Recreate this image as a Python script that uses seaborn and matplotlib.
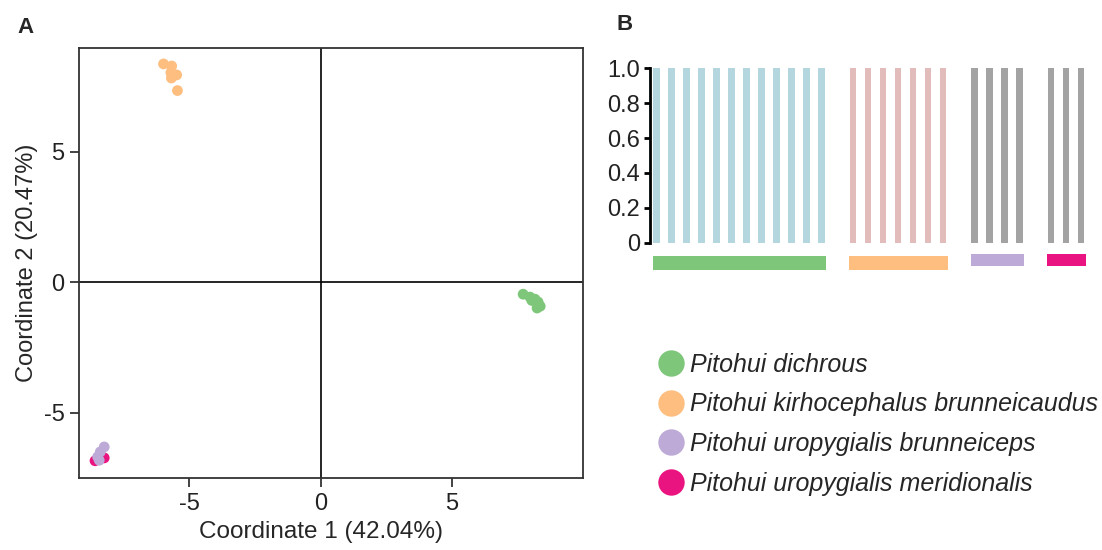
import numpy as np
import pandas as pd
import seaborn as sns
import matplotlib.pyplot as plt
from matplotlib.lines import Line2D

# Panel A: PCoA coordinates per species
species = [
    "Pitohui dichrous",
    "Pitohui kirhocephalus brunneicaudus",
    "Pitohui uropygialis brunneiceps",
    "Pitohui uropygialis meridionalis",
]
species_colors = ["#7DC67A", "#FDBE80", "#BDAAD6", "#EA1480"]

dichrous_x = [7.72, 7.98, 8.17, 8.29, 8.37, 8.25, 8.05]
dichrous_y = [-0.46, -0.57, -0.65, -0.76, -0.92, -0.99, -0.70]
kirho_x = [-5.98, -5.67, -5.70, -5.48, -5.68, -5.45]
kirho_y = [8.36, 8.28, 8.03, 7.94, 7.82, 7.34]
brunneiceps_x = [-8.24, -8.39, -8.49, -8.43]
brunneiceps_y = [-6.31, -6.50, -6.69, -6.82]
meridionalis_x = [-8.59, -8.24]
meridionalis_y = [-6.84, -6.73]

# Panel B: STRUCTURE membership (K=1 cluster colours per population)
group_counts = [12, 7, 4, 3]
bar_colors = ["#ADDAE5", "#E8B5B5", "#A3A3A3", "#A3A3A3"]
membership = [1.0] * sum(group_counts)

sns.set_style("white")
plt.rcParams["font.family"] = ["Liberation Sans", "DejaVu Sans"]
plt.rcParams["axes.unicode_minus"] = False

fig = plt.figure(figsize=(11.02, 5.5), dpi=100)

# ---------- Panel A ----------
ax = fig.add_axes([79 / 1102, 1 - 478 / 550, 504 / 1102, 430 / 550])

frames = []
# meridionalis first so brunneiceps sits on top
for name, xs, ys in [
    (species[3], meridionalis_x, meridionalis_y),
    (species[0], dichrous_x, dichrous_y),
    (species[1], kirho_x, kirho_y),
    (species[2], brunneiceps_x, brunneiceps_y),
]:
    frames.append(pd.DataFrame({"x": xs, "y": ys, "species": name}))
pcoa = pd.concat(frames, ignore_index=True)

sns.scatterplot(
    data=pcoa, x="x", y="y", hue="species",
    palette=dict(zip(species, species_colors)),
    s=60, linewidth=0, alpha=1, legend=False, ax=ax, zorder=3
)
ax.axhline(0, color="black", lw=1.2, zorder=1)
ax.axvline(0, color="black", lw=1.2, zorder=1)
ax.set_xlim(-9.2, 10.0)
ax.set_ylim(-7.5, 8.97)
ax.set_xticks([-5, 0, 5])
ax.set_yticks([-5, 0, 5])
ax.tick_params(direction="out", length=6.5, width=1.2, labelsize=17,
               bottom=True, left=True, colors="#222222", pad=4)
for sp in ax.spines.values():
    sp.set_color("#333333")
    sp.set_linewidth(1.3)
ax.set_xlabel("Coordinate 1 (42.04%)", fontsize=17.5)
ax.set_ylabel("Coordinate 2 (20.47%)", fontsize=17, labelpad=4)
ax.xaxis.set_label_coords(0.48, -0.1)

# ---------- Panel B ----------
pitch = 15.0  # px per bar slot
axb = fig.add_axes([650 / 1102, 1 - 272.3 / 550, 445 / 1102, 204 / 550])

gap = 1.1
positions, groups = [], []
start = 0.0
spans = []
for gi, n in enumerate(group_counts):
    pos = [start + i for i in range(n)]
    positions += pos
    groups += [gi] * n
    spans.append((pos[0], pos[-1]))
    start = pos[-1] + 1 + gap

struct = pd.DataFrame({"pos": positions, "q": membership, "grp": groups})
sns.barplot(
    data=struct, x="pos", y="q", hue="grp",
    palette=dict(enumerate(bar_colors)), native_scale=True, dodge=False,
    width=0.46, legend=False, ax=axb, linewidth=0, zorder=2
)
for p in axb.patches:
    p.set_clip_on(False)

# population bars underneath
for gi, (a, b) in enumerate(spans):
    h = 0.081 if gi < 2 else 0.069
    bot = -0.157 if gi < 2 else -0.134
    axb.bar((a + b) / 2 + 0.03, h, width=(b - a) + 0.55, bottom=bot,
            color=species_colors[gi], linewidth=0, clip_on=False)

axb.set_xlim(-0.43, -0.43 + 445 / pitch)
axb.set_ylim(-0.17, 1.0)
axb.set_yticks([0, 0.2, 0.4, 0.6, 0.8, 1.0])
axb.set_yticklabels(["0", "0.2", "0.4", "0.6", "0.8", "1.0"])
axb.set_xticks([])
axb.set_xlabel("")
axb.set_ylabel("")
for s in ["top", "right", "bottom"]:
    axb.spines[s].set_visible(False)
axb.spines["left"].set_bounds(0, 1)
axb.spines["left"].set_linewidth(2)
axb.spines["left"].set_color("black")
axb.tick_params(axis="y", direction="out", length=4, width=2, labelsize=17,
                left=True, pad=3, colors="black")
for t in axb.get_yticklabels():
    t.set_color("#222222")

# legend
handles = [Line2D([], [], marker="o", linestyle="none", markersize=19,
                  markerfacecolor=c, markeredgewidth=0) for c in species_colors]
fig.legend(handles, species, loc="upper left",
           bbox_to_anchor=(648 / 1102, 1 - 343 / 550), frameon=False,
           prop={"style": "italic", "size": 18}, labelspacing=0.62,
           handletextpad=0.28, handlelength=1.0, borderaxespad=0)

fig.text(17 / 1102, 1 - 33 / 550, "A", fontsize=16, fontweight="bold",
         va="baseline")
fig.text(617 / 1102, 1 - 30 / 550, "B", fontsize=16, fontweight="bold",
         va="baseline")

fig.savefig("out.png", dpi=100)
